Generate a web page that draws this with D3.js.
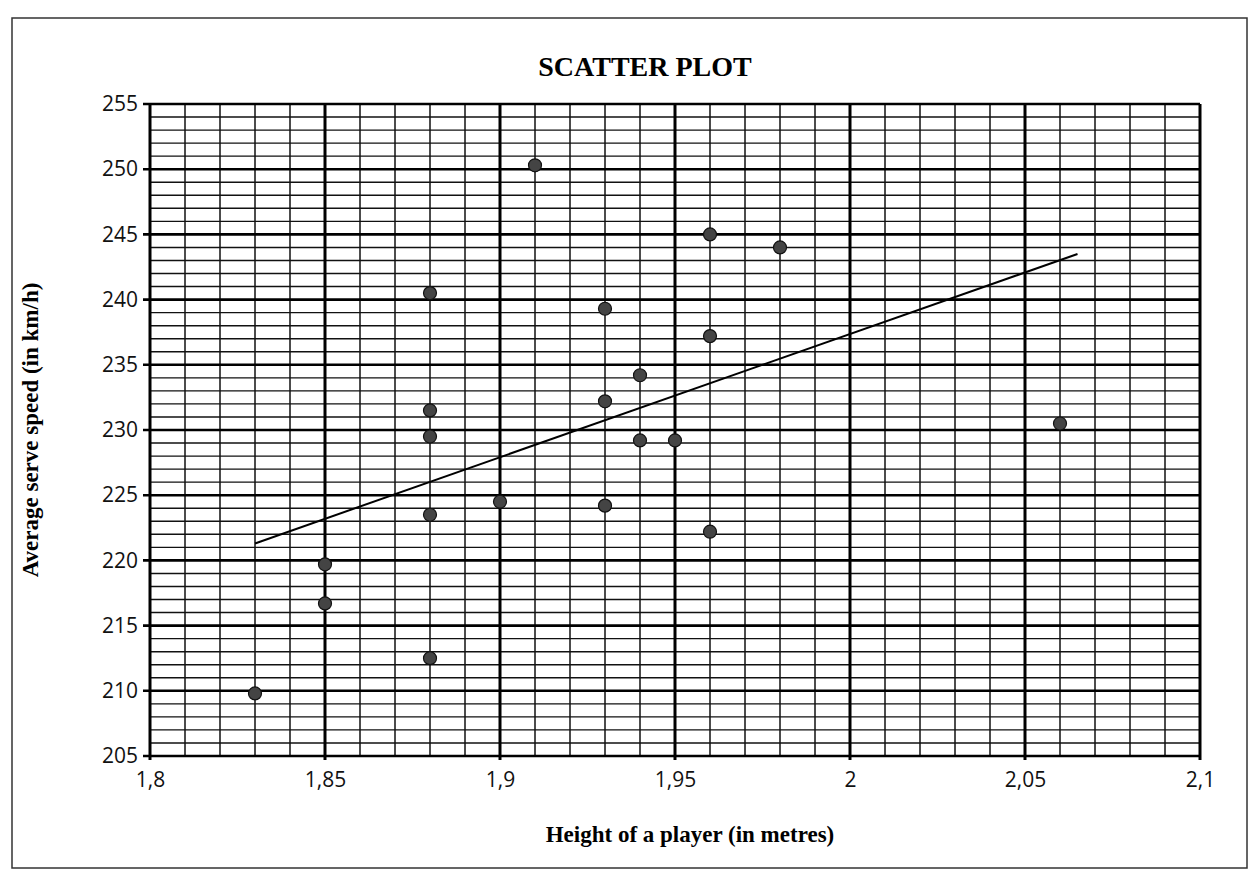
<!DOCTYPE html>
<html>
<head>
<meta charset="utf-8">
<script src="https://cdn.jsdelivr.net/npm/d3@7"></script>
<style>
  body { margin: 0; background: #fff; }
</style>
</head>
<body>
<div id="chart"></div>
<script>
// Data
const heights = [1.83, 1.85, 1.85, 1.88, 1.88, 1.88, 1.88, 1.88, 1.90, 1.91,
                 1.93, 1.93, 1.93, 1.94, 1.94, 1.95, 1.96, 1.96, 1.96, 1.98, 2.06];
const speeds  = [209.8, 219.7, 216.7, 240.5, 231.5, 229.5, 223.5, 212.5, 224.5, 250.3,
                 239.3, 232.2, 224.2, 234.2, 229.2, 229.2, 245.0, 237.2, 222.2, 244.0, 230.5];
const trendX = [1.83, 2.065];
const trendY = [221.3, 243.5];
const xTicks = [1.8, 1.85, 1.9, 1.95, 2, 2.05, 2.1];
const yTicks = [205, 210, 215, 220, 225, 230, 235, 240, 245, 250, 255];

const W = 1255, H = 892;
const margin = { top: 104, right: 55, bottom: 136, left: 150 },
    width = W - margin.left - margin.right,
    height = H - margin.top - margin.bottom;

const svg = d3.select("#chart")
    .append("svg")
    .attr("width", W)
    .attr("height", H);

// outer frame
svg.append("rect")
    .attr("x", 12).attr("y", 18)
    .attr("width", 1235).attr("height", 850)
    .attr("fill", "none")
    .attr("stroke", "#333")
    .attr("stroke-width", 1.5);

const g = svg.append("g")
    .attr("transform", `translate(${margin.left}, ${margin.top})`);

const x = d3.scaleLinear().domain([1.8, 2.1]).range([0, width]);
const y = d3.scaleLinear().domain([205, 255]).range([height, 0]);

// minor grid (every 0.01 / every 1)
const minorX = d3.range(0, 31).map(i => 1.8 + i * 0.01);
const minorY = d3.range(205, 256, 1);

g.append("g").selectAll("line")
    .data(minorX)
    .join("line")
    .attr("x1", d => x(d)).attr("x2", d => x(d))
    .attr("y1", 0).attr("y2", height)
    .attr("stroke", "#111")
    .attr("stroke-width", 1.5);

g.append("g").selectAll("line")
    .data(minorY)
    .join("line")
    .attr("x1", 0).attr("x2", width)
    .attr("y1", d => y(d)).attr("y2", d => y(d))
    .attr("stroke", "#111")
    .attr("stroke-width", 1.4);

// major grid
g.append("g").selectAll("line")
    .data(xTicks)
    .join("line")
    .attr("x1", d => x(d)).attr("x2", d => x(d))
    .attr("y1", 0).attr("y2", height + 4)
    .attr("stroke", "#000")
    .attr("stroke-width", 3);

g.append("g").selectAll("line")
    .data(yTicks)
    .join("line")
    .attr("x1", -7).attr("x2", width)
    .attr("y1", d => y(d)).attr("y2", d => y(d))
    .attr("stroke", "#000")
    .attr("stroke-width", 2.6);

// tick labels via d3 axes (decimal comma)
const fmt = d => String(d).replace(".", ",");

const yAxis = g.append("g")
    .call(d3.axisLeft(y).tickValues(yTicks).tickSize(0).tickPadding(12).tickFormat(d => d));
yAxis.select(".domain").remove();
yAxis.selectAll("text")
    .attr("font-family", "Open Sans, sans-serif")
    .attr("font-size", "21px")
    .attr("fill", "#111");

const xAxis = g.append("g")
    .attr("transform", `translate(0, ${height})`)
    .call(d3.axisBottom(x).tickValues(xTicks).tickSize(0).tickPadding(16).tickFormat(fmt));
xAxis.select(".domain").remove();
xAxis.selectAll("text")
    .attr("font-family", "Open Sans, sans-serif")
    .attr("font-size", "21px")
    .attr("fill", "#111");

// trend line
g.append("line")
    .attr("x1", x(trendX[0])).attr("y1", y(trendY[0]))
    .attr("x2", x(trendX[1])).attr("y2", y(trendY[1]))
    .attr("stroke", "#000")
    .attr("stroke-width", 2);

// points
const pts = heights.map((h, i) => ({ h: h, s: speeds[i] }));
g.append("g").selectAll("circle")
    .data(pts)
    .join("circle")
    .attr("cx", d => x(d.h))
    .attr("cy", d => y(d.s))
    .attr("r", 6.5)
    .attr("fill", "#444")
    .attr("stroke", "#111")
    .attr("stroke-width", 1.2);

// titles
svg.append("text")
    .attr("x", 645).attr("y", 76)
    .attr("text-anchor", "middle")
    .attr("font-family", "Liberation Serif, serif")
    .attr("font-weight", "bold")
    .attr("font-size", "28px")
    .text("SCATTER PLOT");

svg.append("text")
    .attr("x", 690).attr("y", 842)
    .attr("text-anchor", "middle")
    .attr("font-family", "Liberation Serif, serif")
    .attr("font-weight", "bold")
    .attr("font-size", "23px")
    .text("Height of  a player (in metres)");

svg.append("text")
    .attr("transform", `translate(38, ${margin.top + height / 2}) rotate(-90)`)
    .attr("text-anchor", "middle")
    .attr("font-family", "Liberation Serif, serif")
    .attr("font-weight", "bold")
    .attr("font-size", "23px")
    .text("Average serve speed (in km/h)");
</script>
</body>
</html>
